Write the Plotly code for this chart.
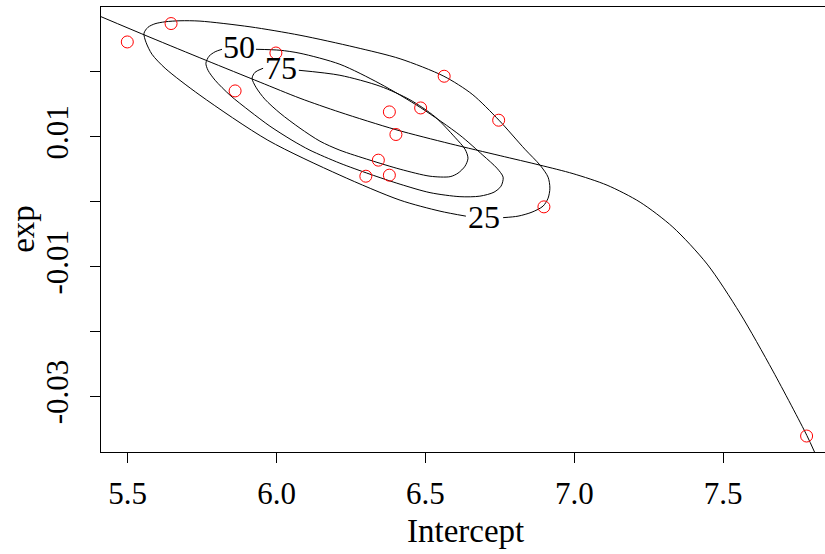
import plotly.graph_objects as go

# ---- data ----
pts_intercept = [5.499, 5.646, 5.861, 5.998, 6.563, 6.379, 6.484, 6.746, 6.401, 6.342, 6.300, 6.379, 6.898, 7.780]
pts_exp = [0.02462, 0.02745, 0.01708, 0.02292, 0.01934, 0.01385, 0.01446, 0.01257, 0.01037, 0.00642, 0.00395, 0.00411, -0.00077, -0.03605]

curve_intercept = [5.4107, 5.5752, 5.763, 5.945, 6.079, 6.213, 6.401, 6.583, 6.751, 6.885, 6.996, 7.110,
                   7.221, 7.331, 7.446, 7.556, 7.667, 7.781, 7.8066]
curve_exp = [0.02851, 0.02534, 0.0218, 0.01842, 0.01595, 0.0138, 0.01111, 0.00895, 0.00711, 0.00565, 0.00434, 0.00257,
             -0.00005, -0.00389, -0.00958, -0.01712, -0.02605, -0.03597, -0.03851]

c25_x = [6.761, 6.811, 6.858, 6.895, 6.912, 6.918, 6.912, 6.885, 6.834, 6.747, 6.657, 6.562, 6.415, 6.264, 6.079,
         5.911, 5.743, 5.676, 5.626, 5.592, 5.5685, 5.555, 5.5618, 5.582, 5.626, 5.743, 5.971, 6.213, 6.415, 6.549, 6.636]
c25_y = [-0.00243, -0.0022, -0.00158, -0.00066, 0.00057, 0.00211, 0.0038, 0.00565, 0.00811, 0.01257, 0.01657, 0.01934,
         0.02203, 0.0238, 0.02565, 0.02695, 0.02783, 0.02788, 0.02772, 0.02742, 0.02688, 0.02595, 0.02457, 0.02272,
         0.02057, 0.01642, 0.00949, 0.00411, 0.00026, -0.00143, -0.0022]

# contour "50"
c50_x = [5.931, 6.012, 6.079, 6.213, 6.348, 6.4843, 6.616, 6.693, 6.740, 6.761, 6.754, 6.7304, 6.683, 6.616, 6.5155,
         6.415, 6.314, 6.213, 6.1125, 6.052, 5.978, 5.911, 5.844, 5.794, 5.770, 5.763, 5.7734, 5.794, 5.817]
c50_y = [0.02349, 0.02334, 0.02288, 0.02118, 0.01818, 0.01449, 0.01026, 0.00718, 0.00519, 0.0038, 0.00242, 0.00149,
         0.00088, 0.0008, 0.00142, 0.00272, 0.00426, 0.00595, 0.00795, 0.00949, 0.01165, 0.01395, 0.01642, 0.01872,
         0.02026, 0.02134, 0.02242, 0.02311, 0.02349]

# contour "75" (inner)
c75_x = [6.075, 6.213, 6.348, 6.448, 6.532, 6.599, 6.633, 6.643, 6.633, 6.6095, 6.583, 6.5155, 6.415, 6.314, 6.213,
         6.146, 6.079, 6.012, 5.961, 5.931, 5.918, 5.928, 5.955]
c75_y = [0.02026, 0.01949, 0.0178, 0.01572, 0.01311, 0.00995, 0.00811, 0.00672, 0.00549, 0.00442, 0.00388, 0.00395,
         0.00503, 0.00642, 0.00795, 0.00934, 0.01134, 0.01365, 0.0158, 0.01765, 0.01903, 0.01995, 0.02057]

label_text = ["50", "75", "25"]
label_x = [5.874, 6.015, 6.697]
label_y = [0.0238, 0.02057, -0.00235]

x_ticks = [5.5, 6.0, 6.5, 7.0, 7.5]
x_ticktext = ["5.5", "6.0", "6.5", "7.0", "7.5"]
y_ticks = [0.02, 0.01, 0.0, -0.01, -0.02, -0.03]
y_ticktext = ["", "0.01", "", "-0.01", "", "-0.03"]

x_range = [5.4107, 7.8418]
y_range = [-0.03851, 0.03]

FONT = "Liberation Serif, Times New Roman, serif"

fig = go.Figure()
for cx, cy in [(c25_x, c25_y), (c50_x, c50_y), (c75_x, c75_y)]:
    fig.add_trace(go.Scatter(x=cx, y=cy, mode="lines",
                             line=dict(color="black", width=1, shape="spline", smoothing=0.8),
                             hoverinfo="skip", showlegend=False))
fig.add_trace(go.Scatter(x=curve_intercept, y=curve_exp, mode="lines",
                         line=dict(color="black", width=1, shape="spline", smoothing=0.8),
                         showlegend=False))
fig.add_trace(go.Scatter(x=pts_intercept, y=pts_exp, mode="markers",
                         marker=dict(symbol="circle-open", size=12, color="red", line=dict(width=1, color="red")),
                         showlegend=False, cliponaxis=False))

for t, lx, ly in zip(label_text, label_x, label_y):
    fig.add_annotation(x=lx, y=ly, text=t, showarrow=False,
                       font=dict(family=FONT, size=32, color="black"),
                       xanchor="center", yanchor="middle")

fig.add_annotation(xref="paper", yref="paper", x=0.5028, y=-0.178, text="Intercept",
                   showarrow=False, font=dict(family=FONT, size=33, color="black"),
                   xanchor="center", yanchor="middle")
fig.add_annotation(xref="paper", yref="paper", x=-0.108, y=0.501, text="exp", textangle=-90,
                   showarrow=False, font=dict(family=FONT, size=33, color="black"),
                   xanchor="center", yanchor="middle")

fig.update_layout(
    width=825, height=554,
    margin=dict(l=101, r=0, t=7, b=102),
    plot_bgcolor="white", paper_bgcolor="white",
    font=dict(family=FONT, size=31, color="black"),
    xaxis=dict(range=x_range, tickvals=x_ticks, ticktext=x_ticktext, ticks="outside", ticklen=10,
               tickcolor="black", tickwidth=1, showline=True, linecolor="black", linewidth=1,
               mirror=True, showgrid=False, zeroline=False, ticklabelstandoff=4,
               tickfont=dict(family=FONT, size=31)),
    yaxis=dict(range=y_range, tickvals=y_ticks, ticktext=y_ticktext, ticks="outside", ticklen=10,
               tickcolor="black", tickwidth=1, showline=True, linecolor="black", linewidth=1,
               mirror=False, showgrid=False, zeroline=False, tickangle=-90, ticklabelstandoff=10,
               tickfont=dict(family=FONT, size=31)),
)

fig.write_html("out.html")
